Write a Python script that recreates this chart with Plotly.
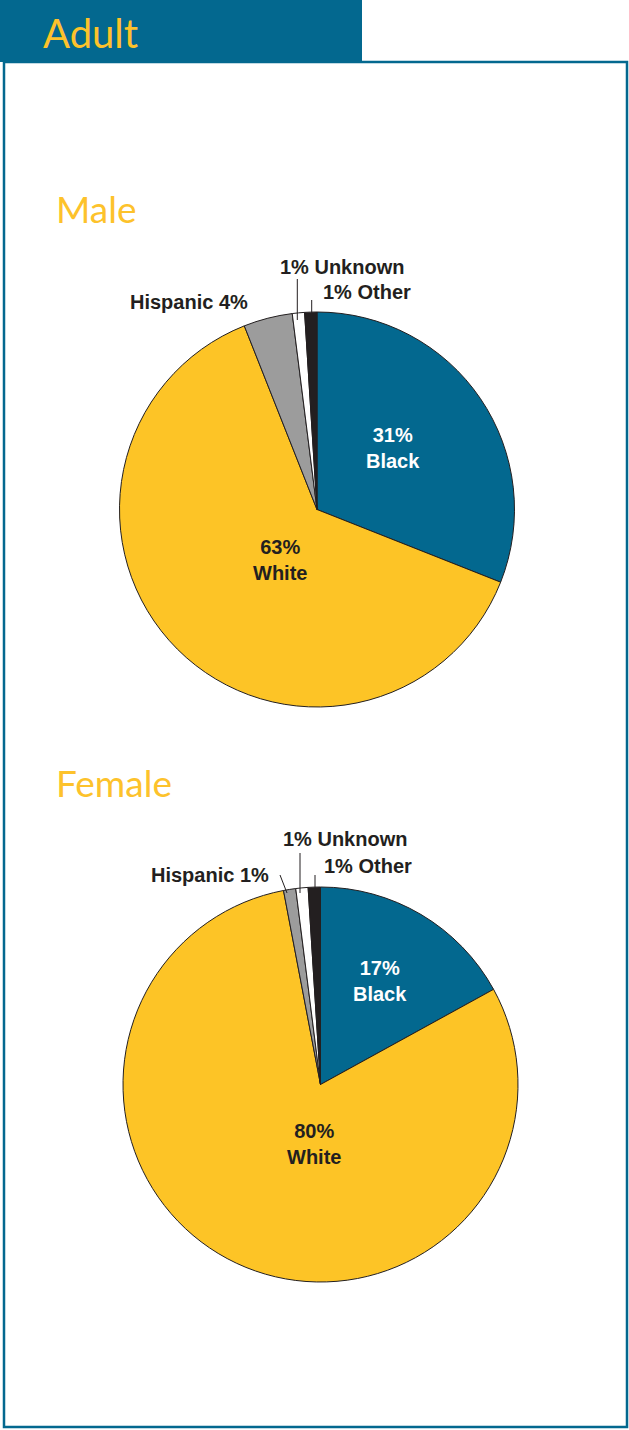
import plotly.graph_objects as go

W, H = 629, 1430

# data
groups = ["Black", "White", "Hispanic", "Unknown", "Other"]
male_pct = [31, 63, 4, 1, 1]
female_pct = [17, 80, 1, 1, 1]
slice_colors = ["#03688f", "#fdc426", "#9c9c9c", "#ffffff", "#231f20"]

TEAL = "#03688f"
GOLD = "#fdc22b"
INK = "#231f20"


def px_x(x):
    return x / W


def px_y(y):
    return 1 - y / H


def pie(values, cx, cy, r):
    return go.Pie(
        labels=groups,
        values=values,
        sort=False,
        direction="clockwise",
        rotation=0,
        textinfo="none",
        hoverinfo="label+percent",
        marker=dict(colors=slice_colors, line=dict(color=INK, width=1)),
        domain=dict(x=[px_x(cx - r), px_x(cx + r)], y=[px_y(cy + r), px_y(cy - r)]),
        showlegend=False,
    )


fig = go.Figure()
fig.add_trace(pie(male_pct, 317, 509.5, 197.5))
fig.add_trace(pie(female_pct, 320.5, 1084.5, 197.5))

shapes = [
    # frame + header tab
    dict(type="rect", xref="paper", yref="paper", x0=px_x(4), x1=px_x(627),
         y0=px_y(1427), y1=px_y(62), line=dict(color=TEAL, width=2.5)),
    dict(type="rect", xref="paper", yref="paper", x0=0, x1=px_x(362),
         y0=px_y(62), y1=1, line=dict(width=0), fillcolor=TEAL),
]

# leader lines for the thin slices
leaders = [
    (297.3, 279, 297.3, 320),
    (311.7, 300, 311.7, 314),
    (280, 875, 287, 893),
    (300, 853, 300, 893),
    (315, 875, 315, 889),
]
for x0, y0, x1, y1 in leaders:
    shapes.append(dict(type="line", xref="paper", yref="paper",
                       x0=px_x(x0), y0=px_y(y0), x1=px_x(x1), y1=px_y(y1),
                       line=dict(color=INK, width=1)))

annotations = []


def note(text, x, y, color=INK, size=20, family="Liberation Sans, Arial, sans-serif", anchor="center"):
    annotations.append(dict(
        text=text, x=px_x(x), y=px_y(y), xref="paper", yref="paper",
        xanchor=anchor, yanchor="middle", showarrow=False,
        font=dict(color=color, size=size, family=family),
    ))


TITLE_FONT = "Lato, 'Open Sans', sans-serif"
note("Adult", 41, 33, color=GOLD, size=40, family=TITLE_FONT, anchor="left")
note("Male", 54, 208, color=GOLD, size=37, family=TITLE_FONT, anchor="left")
note("Female", 54, 782, color=GOLD, size=37, family=TITLE_FONT, anchor="left")

# male labels
note(f"<b>{male_pct[0]}%<br>{groups[0]}</b>", 393, 448, color="#ffffff")
note(f"<b>{male_pct[1]}%<br>{groups[1]}</b>", 280, 560)
note(f"<b>{groups[2]} {male_pct[2]}%</b>", 189, 302)
note(f"<b>{male_pct[3]}% {groups[3]}</b>", 342, 267)
note(f"<b>{male_pct[4]}% {groups[4]}</b>", 367, 292)

# female labels
note(f"<b>{female_pct[0]}%<br>{groups[0]}</b>", 380, 981, color="#ffffff")
note(f"<b>{female_pct[1]}%<br>{groups[1]}</b>", 314, 1144)
note(f"<b>{groups[2]} {female_pct[2]}%</b>", 210, 875)
note(f"<b>{female_pct[3]}% {groups[3]}</b>", 345, 839)
note(f"<b>{female_pct[4]}% {groups[4]}</b>", 368, 866)

fig.update_layout(
    width=W,
    height=H,
    margin=dict(l=0, r=0, t=0, b=0),
    paper_bgcolor="white",
    plot_bgcolor="white",
    shapes=shapes,
    annotations=annotations,
)

# drop the default 8px page margin so the figure sits at the window origin
fig.write_html("out.html", config={"displayModeBar": False},
               post_script="document.body.style.margin='0';")
